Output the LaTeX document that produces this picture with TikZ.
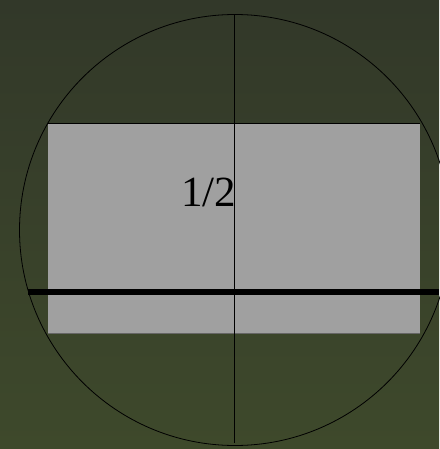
\documentclass[tikz,border=0pt]{standalone}
\usepackage{fontspec}
\setmainfont{Liberation Serif}
\usepackage{tikz}
\definecolor{bgtop}{RGB}{50,56,41}
\definecolor{bgbottom}{RGB}{62,73,43}
\definecolor{plate}{RGB}{160,160,160}

\begin{document}
\begin{tikzpicture}[
  x=1pt, y=-1pt,
  thinline/.style={draw=black, line width=0.8pt},
  thickline/.style={draw=black, line width=6pt},
  label/.style={font=\fontsize{43}{43}\selectfont, inner sep=0pt, anchor=base east}
]
\shade[top color=bgtop, bottom color=bgbottom] (0,0) rectangle (439,449);
\useasboundingbox (0,0) rectangle (439,449);

\fill[plate] (48,123.5) rectangle (420,333);
\draw[thinline] (48,123.5) -- (420,123.5);
\draw[draw=black!60, line width=0.6pt] (48,333) -- (420,333);

\draw[thinline] (235,230) circle[radius=215.5];
\draw[thinline] (234.5,14.5) -- (234.5,443);
\draw[thickline] (28,291.8) -- (439,291.8);

\node[label] (half) at (236.5,206) {1/2};
\end{tikzpicture}
\end{document}
